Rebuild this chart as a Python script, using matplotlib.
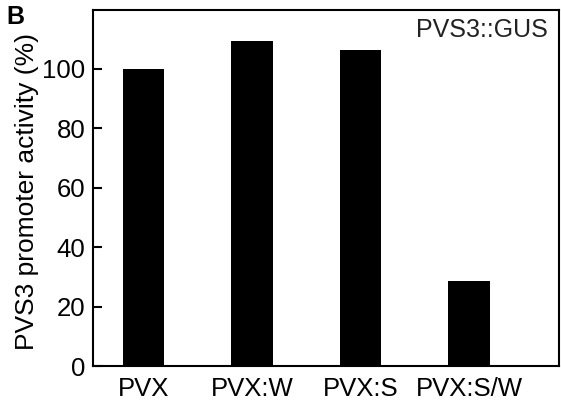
import matplotlib
matplotlib.use('Agg')
import matplotlib.pyplot as plt

# values
constructs = ['PVX', 'PVX:W', 'PVX:S', 'PVX:S/W']
activity = [100.0, 109.4, 106.4, 28.5]
yticks = [0, 20, 40, 60, 80, 100]

plt.rcParams['font.family'] = ['Liberation Sans', 'DejaVu Sans']

fig = plt.figure(figsize=(5.61, 4.0), dpi=100)
# axes box: left spine ~93px, right ~559px, top ~9.5px, bottom ~366px
ax = fig.add_axes([93 / 561, 34 / 400, 466 / 561, 356.5 / 400])

x = list(range(len(constructs)))
ax.bar(x, activity, width=0.38, color='black')

ax.set_xlim(-0.465, 3.83)
ax.set_ylim(0, 120)
ax.set_yticks(yticks)
ax.set_xticks(x)
ax.set_xticklabels(constructs)

for s in ax.spines.values():
    s.set_linewidth(1.5)

ax.tick_params(axis='y', direction='in', length=6.5, width=1.5, labelsize=18.5, pad=5.5)
ax.tick_params(axis='x', length=0, labelsize=18.5, pad=8)

ax.set_ylabel('PVS3 promoter activity (%)', fontsize=19)
ax.yaxis.set_label_coords(-0.116, 0.49)

ax.text(0.976, 0.923, 'PVS3::GUS', transform=ax.transAxes, ha='right', va='baseline',
        fontsize=18, color='#222222')
fig.text(6 / 561, 1 - 5 / 400, 'B', fontsize=18, fontweight='bold', ha='left', va='top')

fig.savefig('out.png', dpi=100)
